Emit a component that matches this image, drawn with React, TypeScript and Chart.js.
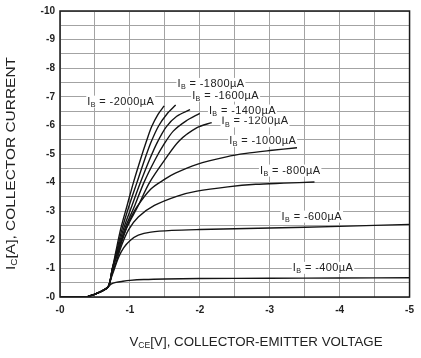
import React, { useEffect, useRef } from 'react';
import { Chart, registerables } from 'chart.js';

Chart.register(...registerables);

// Shared beginning of every curve (cut-off region and knee)
const kneeV = [0, -0.2, -0.4, -0.56, -0.69];
const kneeI = [0, 0, -0.02, -0.16, -0.36];

const ib400V = [-0.73, -0.8, -0.9, -1.0, -1.2, -1.5, -2, -3, -4, -5];
const ib400I = [-0.45, -0.51, -0.55, -0.58, -0.61, -0.63, -0.645, -0.655, -0.665, -0.675];

const ib600V = [-0.73, -0.78, -0.84, -0.91, -1.0, -1.12, -1.3, -1.6, -2, -3, -4, -5];
const ib600I = [-0.65, -1.0, -1.4, -1.72, -1.97, -2.16, -2.27, -2.33, -2.36, -2.41, -2.47, -2.54];

const ib800V = [-0.73, -0.8, -0.88, -0.98, -1.12, -1.35, -1.68, -1.96, -2.4, -2.8, -3.2, -3.64];
const ib800I = [-0.7, -1.2, -1.8, -2.35, -2.8, -3.2, -3.53, -3.7, -3.85, -3.94, -3.98, -4.02];

const ib1000V = [-0.74, -0.8, -0.9, -1.0, -1.1, -1.3, -1.5, -1.65, -1.96, -2.38, -2.66, -3.0, -3.39];
const ib1000I = [-0.8, -1.4, -2.1, -2.7, -3.15, -3.78, -4.12, -4.33, -4.64, -4.9, -5.02, -5.12, -5.22];

const ib1200V = [-0.75, -0.84, -0.95, -1.12, -1.28, -1.5, -1.7, -1.96, -2.17];
const ib1200I = [-1.0, -1.6, -2.4, -3.2, -4.0, -4.8, -5.45, -5.92, -6.1];

const ib1400V = [-0.75, -0.83, -0.93, -1.07, -1.2, -1.36, -1.49, -1.62, -1.8, -2.0];
const ib1400I = [-1.0, -1.6, -2.4, -3.2, -4.0, -4.8, -5.35, -5.8, -6.15, -6.42];

const ib1600V = [-0.75, -0.82, -0.91, -1.03, -1.15, -1.28, -1.39, -1.52, -1.67, -1.86];
const ib1600I = [-1.0, -1.6, -2.4, -3.2, -4.0, -4.8, -5.4, -5.95, -6.32, -6.55];

const ib1800V = [-0.75, -0.81, -0.89, -0.99, -1.1, -1.21, -1.3, -1.41, -1.53, -1.655];
const ib1800I = [-1.0, -1.6, -2.4, -3.2, -4.0, -4.8, -5.4, -5.98, -6.4, -6.71];

const ib2000V = [-0.75, -0.8, -0.87, -0.96, -1.05, -1.15, -1.23, -1.31, -1.4, -1.49];
const ib2000I = [-1.0, -1.6, -2.4, -3.2, -4.0, -4.8, -5.4, -5.95, -6.38, -6.68];

const seriesV = [ib400V, ib600V, ib800V, ib1000V, ib1200V, ib1400V, ib1600V, ib1800V, ib2000V];
const seriesI = [ib400I, ib600I, ib800I, ib1000I, ib1200I, ib1400I, ib1600I, ib1800I, ib2000I];

// Curve labels (base current) and their anchor points in data units
const labelTexts = ['-400µA', '-600µA', '-800µA', '-1000µA', '-1200µA', '-1400µA', '-1600µA', '-1800µA', '-2000µA'];
const labelV = [-3.33, -3.17, -2.86, -2.42, -2.31, -2.13, -1.89, -1.68, -0.39];
const labelI = [-1.02, -2.81, -4.42, -5.46, -6.14, -6.52, -7.04, -7.45, -6.83];

const xTickMin = -5;
const xTickMax = 0;
const yTickMin = -10;
const yTickMax = 0;

const FONT = '"Liberation Sans", Arial, Helvetica, sans-serif';

type Part = { t: string; sub?: boolean };

function measureParts(ctx: CanvasRenderingContext2D, parts: Part[], size: number) {
  return parts.map((p) => {
    ctx.font = `${p.sub ? size * 0.65 : size}px ${FONT}`;
    return ctx.measureText(p.t).width;
  });
}

function drawParts(
  ctx: CanvasRenderingContext2D,
  parts: Part[],
  size: number,
  x: number,
  y: number,
  align: 'left' | 'center',
  target?: number
) {
  const widths = measureParts(ctx, parts, size);
  const total = widths.reduce((a, b) => a + b, 0);
  const sx = target ? target / total : 1;
  ctx.save();
  ctx.translate(x, y);
  ctx.scale(sx, 1);
  let cx = align === 'center' ? -total / 2 : 0;
  parts.forEach((p, i) => {
    ctx.font = `${p.sub ? size * 0.65 : size}px ${FONT}`;
    ctx.fillText(p.t, cx, p.sub ? size * 0.32 : 0);
    cx += widths[i];
  });
  ctx.restore();
  return total * sx;
}

const decorPlugin = {
  id: 'decor',
  afterDatasetsDraw(chart: any) {
    const ctx: CanvasRenderingContext2D = chart.ctx;
    const xs = chart.scales.x;
    const ys = chart.scales.y;
    ctx.save();
    ctx.textBaseline = 'middle';
    (ctx as any).letterSpacing = '0.4px';
    labelTexts.forEach((txt, i) => {
      const px = xs.getPixelForValue(labelV[i]);
      const py = ys.getPixelForValue(labelI[i]);
      const parts: Part[] = [{ t: 'I' }, { t: 'B', sub: true }, { t: ' = ' + txt }];
      const w = measureParts(ctx, parts, 11).reduce((a, b) => a + b, 0);
      ctx.fillStyle = '#ffffff';
      ctx.fillRect(px - 1, py - 6, w + 2, 12);
      ctx.fillStyle = '#222222';
      drawParts(ctx, parts, 11, px, py, 'left');
    });
    ctx.restore();
  },
  afterDraw(chart: any) {
    const ctx: CanvasRenderingContext2D = chart.ctx;
    const a = chart.chartArea;
    ctx.save();
    ctx.strokeStyle = '#1a1a1a';
    ctx.lineWidth = 1.5;
    ctx.strokeRect(a.left, a.top, a.right - a.left, a.bottom - a.top);
    ctx.restore();

    ctx.save();
    ctx.fillStyle = '#222222';
    ctx.textBaseline = 'middle';
    drawParts(
      ctx,
      [{ t: 'V' }, { t: 'CE', sub: true }, { t: '[V], COLLECTOR-EMITTER VOLTAGE' }],
      13,
      256,
      342,
      'center',
      253
    );
    ctx.translate(11, 163.5);
    ctx.rotate(-Math.PI / 2);
    drawParts(
      ctx,
      [{ t: 'I' }, { t: 'C', sub: true }, { t: '[A], COLLECTOR CURRENT' }],
      13,
      0,
      0,
      'center',
      213
    );
    ctx.restore();
  },
};

function fmt(v: number) {
  if (!Number.isInteger(v)) return '';
  return v === 0 ? '-0' : String(v);
}

export default function App() {
  const ref = useRef<HTMLCanvasElement | null>(null);
  useEffect(() => {
    document.body.style.margin = '0';
    const datasets = seriesV.map((vs, k) => {
      const xv = [...kneeV, ...vs];
      const yv = [...kneeI, ...seriesI[k]];
      return {
        label: labelTexts[k],
        data: xv.map((x, i) => ({ x, y: yv[i] })),
        borderColor: '#141414',
        borderWidth: 1.4,
        pointRadius: 0,
        fill: false,
        tension: 0.3,
      };
    });
    const chart = new Chart(ref.current as HTMLCanvasElement, {
      type: 'line',
      data: { datasets },
      options: {
        animation: false,
        responsive: false,
        devicePixelRatio: 1,
        layout: { padding: { left: 0, right: 4, top: 6, bottom: 0 } },
        plugins: { legend: { display: false }, tooltip: { enabled: false } },
        scales: {
          x: {
            type: 'linear',
            min: xTickMin,
            max: xTickMax,
            reverse: true,
            afterFit: (s: any) => {
              s.height = 61;
            },
            grid: { color: '#a3a3a3', lineWidth: 1, drawTicks: false },
            border: { display: false },
            ticks: {
              stepSize: 0.5,
              autoSkip: false,
              maxRotation: 0,
              padding: 7,
              color: '#222',
              font: { family: FONT, size: 10, weight: 'bold' },
              callback: (v: any) => fmt(Number(v)),
            },
          },
          y: {
            type: 'linear',
            min: yTickMin,
            max: yTickMax,
            reverse: true,
            afterFit: (s: any) => {
              s.width = 60;
            },
            grid: { color: '#a3a3a3', lineWidth: 1, drawTicks: false },
            border: { display: false },
            ticks: {
              stepSize: 0.5,
              autoSkip: false,
              padding: 5,
              color: '#222',
              font: { family: FONT, size: 10, weight: 'bold' },
              callback: (v: any) => fmt(Number(v)),
            },
          },
        },
      },
      plugins: [decorPlugin],
    });
    return () => chart.destroy();
  }, []);
  return (
    <div style={{ width: 421, height: 358, background: '#fff' }}>
      <canvas ref={ref} width={421} height={358} style={{ display: 'block' }} />
    </div>
  );
}
